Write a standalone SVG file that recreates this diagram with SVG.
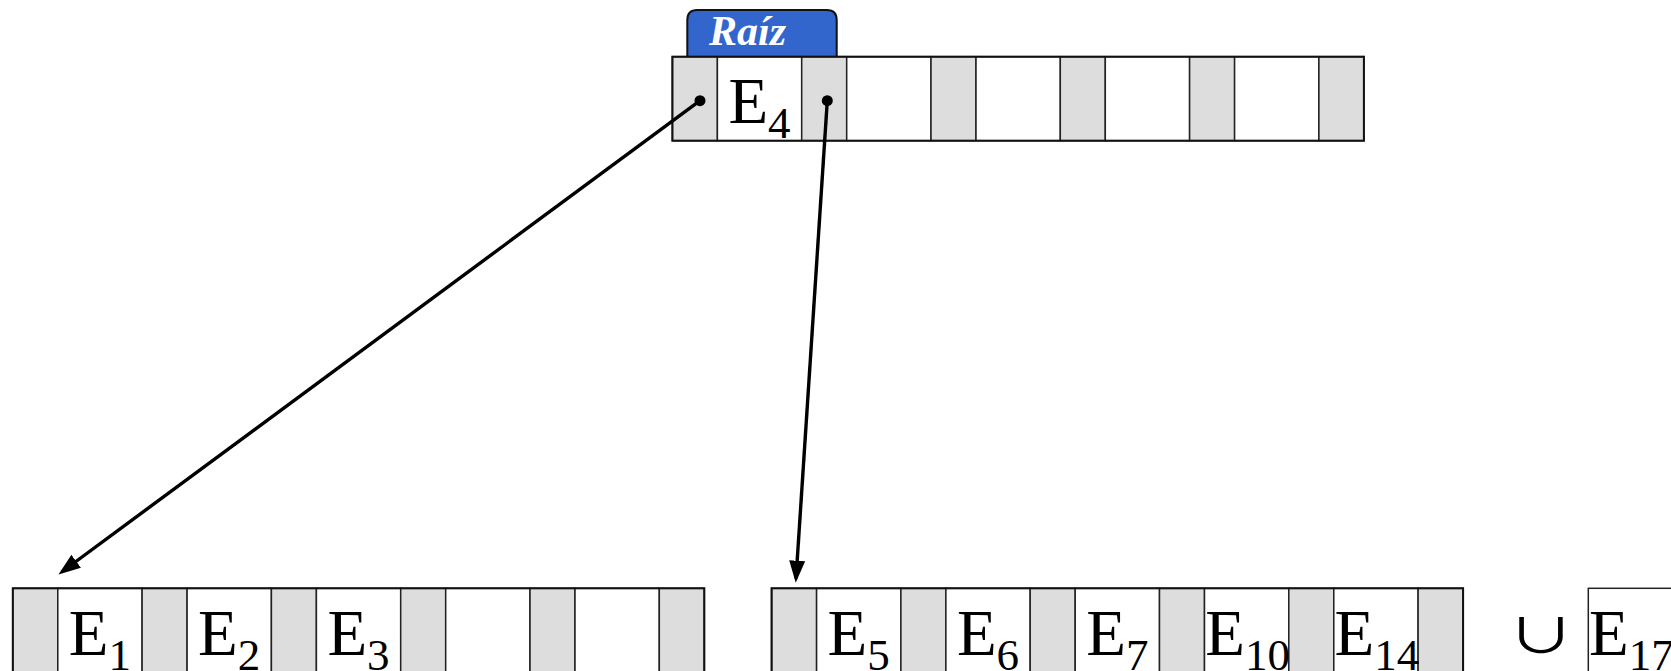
<svg xmlns="http://www.w3.org/2000/svg" width="1671" height="671" viewBox="0 0 1671 671">
  <style>
    .ptr { fill: #dddddd; stroke: #222; stroke-width: 1.5; }
    .key { fill: #ffffff; stroke: #222; stroke-width: 1.5; }
    .frame { fill: none; stroke: #111; stroke-width: 2; }
    .lbl { font-family: "Liberation Serif", "Times New Roman", serif; font-size: 65px; fill: #000; }
    .sub { font-size: 45px; }
    .cup { font-family: "Noto Sans CJK JP", "DejaVu Sans", sans-serif; font-size: 50px; fill: #000; }
    .link { stroke: #000; stroke-width: 3.4; fill: none; }
    .tab { fill: #3366cc; stroke: #111; stroke-width: 2; }
    .tabtxt { font-family: "Liberation Serif", "Times New Roman", serif; font-size: 42px; font-weight: bold; font-style: italic; fill: #ffffff; }
    .dot { fill: #000; }
  </style>
  <defs>
    <marker id="head" markerUnits="userSpaceOnUse" markerWidth="23" markerHeight="17" refX="18" refY="8" orient="auto">
      <path d="M0,0 L22,8 L0,16 Z" fill="#000"/>
    </marker>
    <!-- one B-tree page: 6 pointer slots (grey) interleaved with 5 key slots (white) -->
    <g id="page">
      <rect class="ptr" x="0" y="0" width="45" height="84"/>
      <rect class="key" x="45" y="0" width="84.3" height="84"/>
      <rect class="ptr" x="129.3" y="0" width="45" height="84"/>
      <rect class="key" x="174.3" y="0" width="84.3" height="84"/>
      <rect class="ptr" x="258.6" y="0" width="45" height="84"/>
      <rect class="key" x="303.6" y="0" width="84.3" height="84"/>
      <rect class="ptr" x="387.9" y="0" width="45" height="84"/>
      <rect class="key" x="432.9" y="0" width="84.3" height="84"/>
      <rect class="ptr" x="517.2" y="0" width="45" height="84"/>
      <rect class="key" x="562.2" y="0" width="84.3" height="84"/>
      <rect class="ptr" x="646.5" y="0" width="45" height="84"/>
      <rect class="frame" x="0" y="0" width="691.5" height="84"/>
    </g>
  </defs>

  <rect width="1671" height="671" fill="#ffffff"/>

  <!-- root page with its label tab -->
  <g id="node-root">
    <path class="tab" d="M687.3,57 L687.3,20 Q687.3,10 697.3,10 L826.7,10 Q836.7,10 836.7,20 L836.7,57 Z"/>
    <text class="tabtxt" x="709" y="45">Raíz</text>
    <use href="#page" x="672.4" y="56.7"/>
    <text class="lbl" x="759.5" y="122.5" text-anchor="middle">E<tspan class="sub" dy="15">4</tspan></text>
    <circle class="dot" cx="700" cy="100.7" r="5.5"/>
    <circle class="dot" cx="827.3" cy="100.7" r="5.5"/>
  </g>

  <!-- left child page -->
  <g id="node-left">
    <use href="#page" x="12.8" y="588.3"/>
    <text class="lbl" x="99.9" y="654.5" text-anchor="middle">E<tspan class="sub" dy="15">1</tspan></text>
    <text class="lbl" x="229.2" y="654.5" text-anchor="middle">E<tspan class="sub" dy="15">2</tspan></text>
    <text class="lbl" x="358.5" y="654.5" text-anchor="middle">E<tspan class="sub" dy="15">3</tspan></text>
  </g>

  <!-- right child page -->
  <g id="node-right">
    <use href="#page" x="771.6" y="588.3"/>
    <text class="lbl" x="858.7" y="654.5" text-anchor="middle">E<tspan class="sub" dy="15">5</tspan></text>
    <text class="lbl" x="988" y="654.5" text-anchor="middle">E<tspan class="sub" dy="15">6</tspan></text>
    <text class="lbl" x="1117.3" y="654.5" text-anchor="middle">E<tspan class="sub" dy="15">7</tspan></text>
    <text class="lbl" x="1247.6" y="654.5" text-anchor="middle">E<tspan class="sub" dy="15">10</tspan></text>
    <text class="lbl" x="1376.9" y="654.5" text-anchor="middle">E<tspan class="sub" dy="15">14</tspan></text>
  </g>

  <!-- key being inserted -->
  <g id="node-new">
    <text class="cup" x="0" y="0" text-anchor="middle" transform="translate(1541,653) scale(1.35,0.95)">∪</text>
    <rect class="key" x="1588.3" y="588.3" width="84.3" height="84"/>
    <text class="lbl" x="1631.4" y="654.5" text-anchor="middle">E<tspan class="sub" dy="15">17</tspan></text>
  </g>

  <g id="connectors">
    <line class="link" x1="700" y1="100.7" x2="61.7" y2="572.0" marker-end="url(#head)"/>
    <line class="link" x1="827.3" y1="100.7" x2="796.0" y2="578.7" marker-end="url(#head)"/>
  </g>
</svg>
